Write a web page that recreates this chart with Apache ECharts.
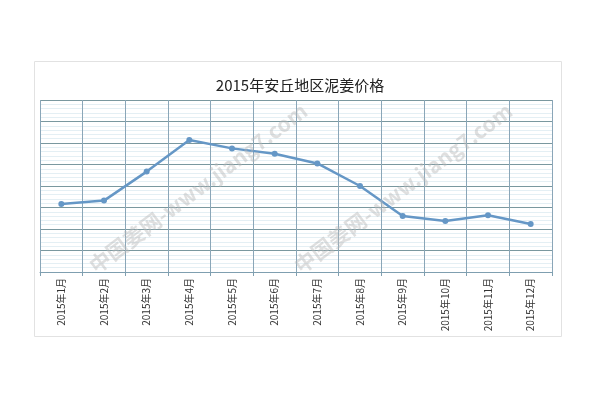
<!DOCTYPE html>
<html><head><meta charset="utf-8">
<script src="https://cdn.jsdelivr.net/npm/echarts@6/dist/echarts.min.js"></script>
<style>html,body{margin:0;padding:0;background:#fff}#c{width:600px;height:400px}</style>
</head><body><div id="c"></div>
<script>
const titleText = '2015年安丘地区泥姜价格';
const categories = ['2015年1月','2015年2月','2015年3月','2015年4月','2015年5月','2015年6月','2015年7月','2015年8月','2015年9月','2015年10月','2015年11月','2015年12月'];
const prices = [3.16, 3.32, 4.67, 6.14, 5.75, 5.5, 5.05, 4.0, 2.6, 2.37, 2.64, 2.23];
const watermark = '中国姜网-www.jiang7.com';

const chart = echarts.init(document.getElementById('c'));
chart.setOption({
  backgroundColor: '#fff',
  animation: false,
  title: {
    text: titleText, left: 'center', top: 73,
    textStyle: { fontFamily: 'Noto Sans CJK SC', fontSize: 15, fontWeight: 'normal', color: '#222' }
  },
  graphic: [
    { type: 'rect', shape: { x: 34.5, y: 61.5, width: 527, height: 275 }, style: { fill: 'none', stroke: '#e2e2e2', lineWidth: 1 }, z: -1 },
    { type: 'text', x: 198, y: 188, rotation: 37 * Math.PI / 180, style: { text: watermark, fill: 'rgba(185,185,185,0.45)', font: 'bold 21px "Noto Sans CJK SC"', align: 'center', verticalAlign: 'middle' }, z: 100 },
    { type: 'text', x: 403, y: 188, rotation: 37 * Math.PI / 180, style: { text: watermark, fill: 'rgba(185,185,185,0.45)', font: 'bold 21px "Noto Sans CJK SC"', align: 'center', verticalAlign: 'middle' }, z: 100 }
  ],
  grid: { left: 40, right: 48, top: 100, bottom: 128 },
  xAxis: {
    type: 'category', data: categories, boundaryGap: true,
    axisLine: { lineStyle: { color: '#7f9fb0', width: 1 } },
    axisTick: { show: true, length: 4, lineStyle: { color: '#7f9fb0' } },
    splitLine: { show: true, lineStyle: { color: '#8aa6b8', width: 1 } },
    axisLabel: { rotate: 90, fontSize: 10, color: '#333', margin: 6, fontFamily: 'Noto Sans CJK SC', interval: 0 }
  },
  yAxis: {
    type: 'value', min: 0, max: 8, interval: 1,
    axisLabel: { show: false }, axisTick: { show: false },
    axisLine: { show: false },
    splitLine: { show: true, lineStyle: { color: '#7a989f', width: 1 } },
    minorTick: { show: false, splitNumber: 5 },
    minorSplitLine: { show: true, lineStyle: { color: '#e4eff4', width: 1 } }
  },
  series: [{
    type: 'line', data: prices,
    symbol: 'circle', symbolSize: 6,
    lineStyle: { color: '#6597c6', width: 2.5 },
    itemStyle: { color: '#6597c6' }
  }]
});
</script></body></html>
